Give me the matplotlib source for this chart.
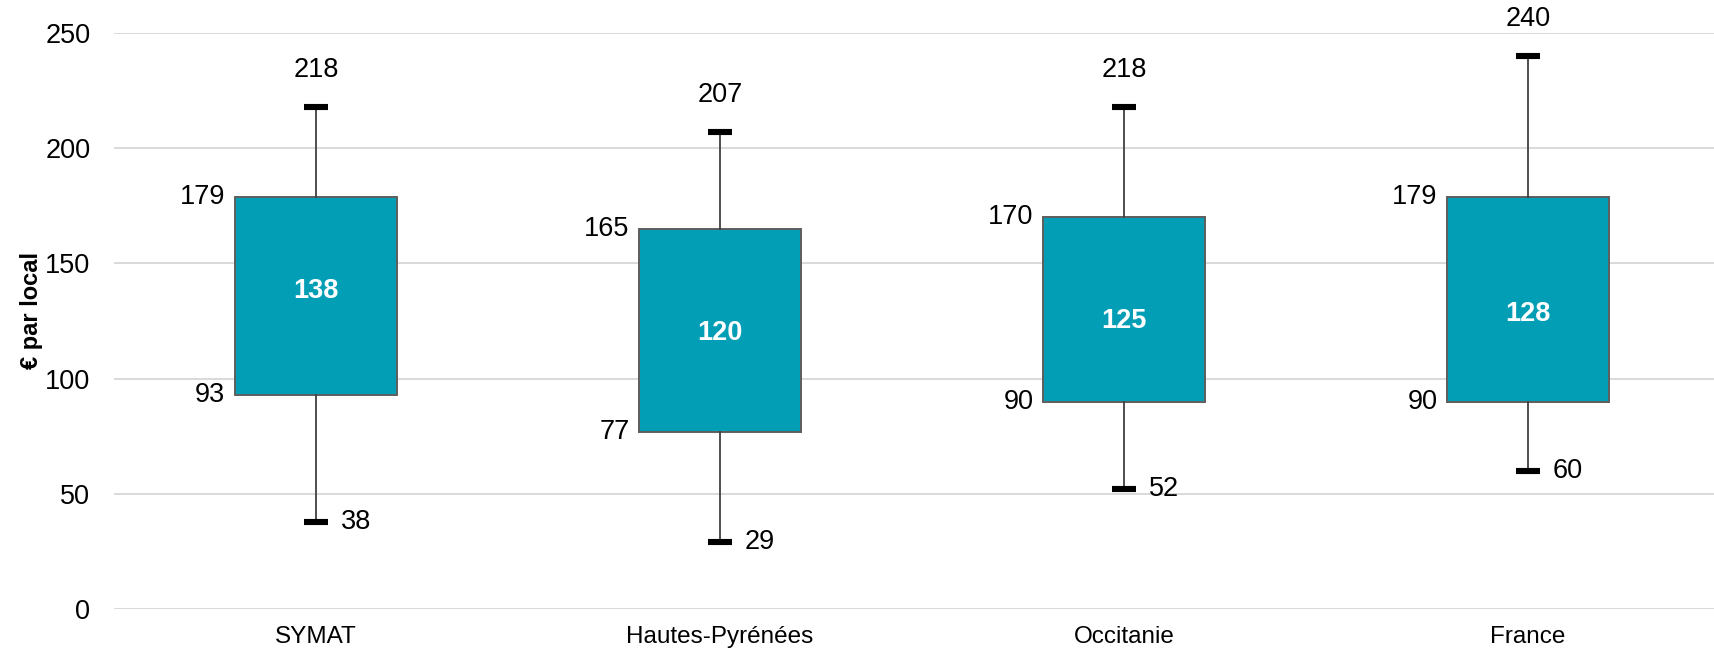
import matplotlib
matplotlib.use("Agg")
import matplotlib.pyplot as plt

# Distribution of the amount per premises (€ par local)
categories = ["SYMAT", "Hautes-Pyrénées", "Occitanie", "France"]
mins = [38, 29, 52, 60]
q1 = [93, 77, 90, 90]
medians = [138, 120, 125, 128]
q3 = [179, 165, 170, 179]
maxs = [218, 207, 218, 240]
y_ticks = [0, 50, 100, 150, 200, 250]

plt.rcParams["font.family"] = ["Liberation Sans", "DejaVu Sans"]

fig = plt.figure(figsize=(17.15, 6.5), dpi=100)
ax = fig.add_axes([114 / 1715, 40.7 / 650, 1616 / 1715, 576.5 / 650])

stats = [
    {"label": c, "whislo": lo, "q1": a, "med": m, "q3": b, "whishi": hi, "fliers": []}
    for c, lo, a, m, b, hi in zip(categories, mins, q1, medians, q3, maxs)
]
positions = list(range(len(categories)))

ax.bxp(
    stats,
    positions=positions,
    widths=0.4,
    capwidths=0.06,
    patch_artist=True,
    showfliers=False,
    boxprops=dict(facecolor="#029EB5", edgecolor="#5E5E5E", linewidth=1.4),
    whiskerprops=dict(color="#404040", linewidth=1.3),
    capprops=dict(color="black", linewidth=4.4, solid_capstyle="butt"),
    medianprops=dict(linewidth=0),
    zorder=3,
)

ax.set_xlim(-0.5, len(categories) - 0.5)
ax.set_ylim(0, 250)
ax.set_yticks(y_ticks)
ax.set_xticks(positions)
ax.set_xticklabels(categories)

ax.grid(axis="y", color="#D9D9D9", linewidth=1.4, zorder=0)
ax.set_axisbelow(True)
for s in ax.spines.values():
    s.set_visible(False)
ax.tick_params(axis="y", length=0, pad=17, labelsize=19.5, labelcolor="black")
ax.tick_params(axis="x", length=0, pad=12, labelsize=17.5, labelcolor="black")

ax.set_ylabel("€ par local", fontsize=17, fontweight="bold")
ax.yaxis.set_label_coords(-0.044, 0.519)

half = 0.2
fs = 19.5
for x, lo, a, m, b, hi in zip(positions, mins, q1, medians, q3, maxs):
    ax.annotate(f"{hi}", (x, hi), xytext=(0, 26.5), textcoords="offset points",
                ha="center", va="center", fontsize=fs)
    ax.annotate(f"{lo}", (x, lo), xytext=(18, 0), textcoords="offset points",
                ha="left", va="center", fontsize=fs)
    ax.annotate(f"{b}", (x - half, b), xytext=(-7, 0), textcoords="offset points",
                ha="right", va="center", fontsize=fs)
    ax.annotate(f"{a}", (x - half, a), xytext=(-7, 0), textcoords="offset points",
                ha="right", va="center", fontsize=fs)
    ax.text(x, m, f"{m}", ha="center", va="center", fontsize=19.5,
            fontweight="bold", color="white", zorder=5)

fig.savefig("out.png", dpi=100)
